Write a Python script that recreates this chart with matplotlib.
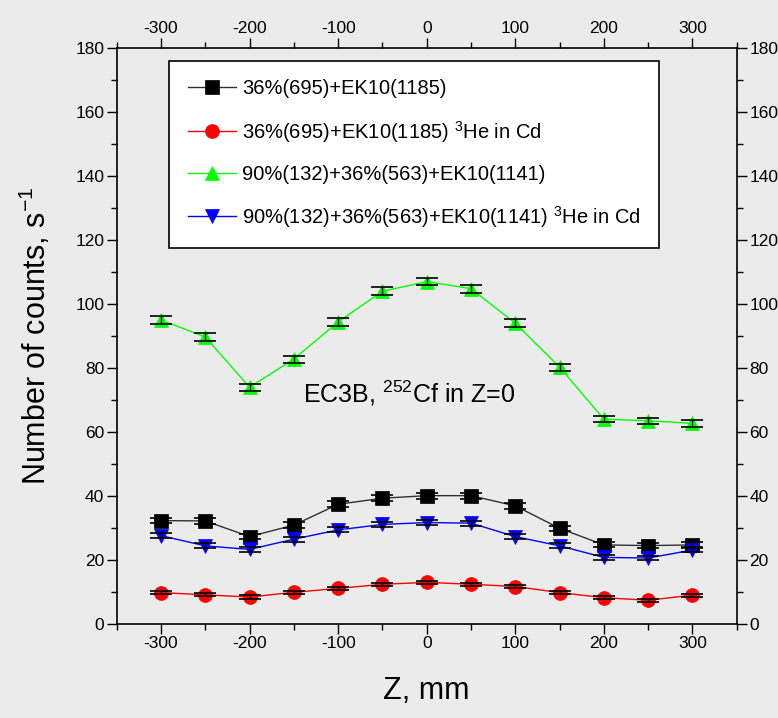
import matplotlib
matplotlib.use("Agg")
import matplotlib.pyplot as plt
from matplotlib.ticker import MultipleLocator

plt.rcParams['font.family'] = ['Liberation Sans', 'DejaVu Sans']
plt.rcParams['mathtext.fontset'] = 'custom'
plt.rcParams['mathtext.rm'] = 'Liberation Sans'
plt.rcParams['mathtext.it'] = 'Liberation Sans'
plt.rcParams['axes.unicode_minus'] = False

z = [-300, -250, -200, -150, -100, -50, 0, 50, 100, 150, 200, 250, 300]

black_vals = [32.3, 32.2, 27.3, 30.9, 37.4, 39.3, 40.1, 40.1, 36.9, 29.9, 24.7, 24.5, 24.7]
red_vals = [9.8, 9.1, 8.4, 9.9, 11.1, 12.4, 13.0, 12.4, 11.7, 9.8, 8.2, 7.4, 9.0]
green_vals = [95.0, 89.7, 74.0, 82.8, 94.4, 104.0, 107.0, 104.8, 94.0, 80.3, 64.0, 63.5, 62.7]
blue_vals = [27.6, 24.4, 23.3, 26.5, 29.4, 31.1, 31.7, 31.5, 27.3, 24.4, 20.8, 20.6, 23.1]

black_err = [0.9, 0.9, 0.8, 0.9, 0.9, 0.9, 0.9, 0.9, 0.9, 0.8, 0.8, 0.8, 0.8]
red_err = [0.5, 0.5, 0.5, 0.5, 0.5, 0.5, 0.5, 0.5, 0.5, 0.5, 0.5, 0.5, 0.5]
green_err = [1.2, 1.2, 1.1, 1.1, 1.2, 1.2, 1.2, 1.2, 1.2, 1.1, 1.0, 1.0, 1.0]
blue_err = [0.8, 0.8, 0.8, 0.8, 0.8, 0.8, 0.8, 0.8, 0.8, 0.8, 0.7, 0.7, 0.7]

labels = [
    "36%(695)+EK10(1185)",
    "36%(695)+EK10(1185) $^{3}$He in Cd",
    "90%(132)+36%(563)+EK10(1141)",
    "90%(132)+36%(563)+EK10(1141) $^{3}$He in Cd",
]

bg = '#ebebeb'
fig = plt.figure(figsize=(7.78, 7.18), dpi=100, facecolor=bg)
ax = fig.add_axes([0.150, 0.131, 0.797, 0.802])
ax.set_facecolor(bg)

series = [
    (black_vals, black_err, 'black', '#303030', 's', labels[0]),
    (red_vals, red_err, '#ff0000', '#ff0000', 'o', labels[1]),
    (green_vals, green_err, '#00ff00', '#00ff00', '^', labels[2]),
    (blue_vals, blue_err, '#0000ff', '#0000ff', 'v', labels[3]),
]

handles = []
for vals, err, mcol, lcol, mk, lab in series:
    ax.errorbar(z, vals, yerr=err, fmt='none', ecolor='black', elinewidth=1,
                capsize=8, capthick=1.2, zorder=5)
    h, = ax.plot(z, vals, color=lcol, lw=1, marker=mk, markersize=10,
                 markerfacecolor=mcol, markeredgecolor=mcol,
                 markeredgewidth=0.5, label=lab, zorder=4)
    handles.append(h)

ax.set_xlim(-350, 350)
ax.set_ylim(0, 180)
ax.xaxis.set_major_locator(MultipleLocator(100))
ax.xaxis.set_minor_locator(MultipleLocator(50))
ax.yaxis.set_major_locator(MultipleLocator(20))
ax.yaxis.set_minor_locator(MultipleLocator(10))
ax.tick_params(which='both', direction='out', top=True, right=True,
               labeltop=True, labelright=True, labelsize=12.5, width=1)
ax.tick_params(which='major', length=7, pad=2)
ax.tick_params(which='minor', length=4)
for sp in ax.spines.values():
    sp.set_linewidth(1.2)

ax.set_xlabel('Z, mm', fontsize=22, labelpad=18)
ax.set_ylabel('Number of counts, s$^{-1}$', fontsize=22, labelpad=16)

ax.text(-20, 72, 'EC3B, $^{252}$Cf in Z=0', fontsize=18, ha='center', va='center')

leg = ax.legend(handles=handles, loc='upper left', bbox_to_anchor=(0.085, 0.977),
                fontsize=14.5, frameon=True, fancybox=False, framealpha=1,
                edgecolor='black', handlelength=2.4, labelspacing=1.0,
                borderpad=0.9, handletextpad=0.3, borderaxespad=0)
leg.get_frame().set_linewidth(1.2)

fig.savefig('out.png', dpi=100, facecolor=bg)
